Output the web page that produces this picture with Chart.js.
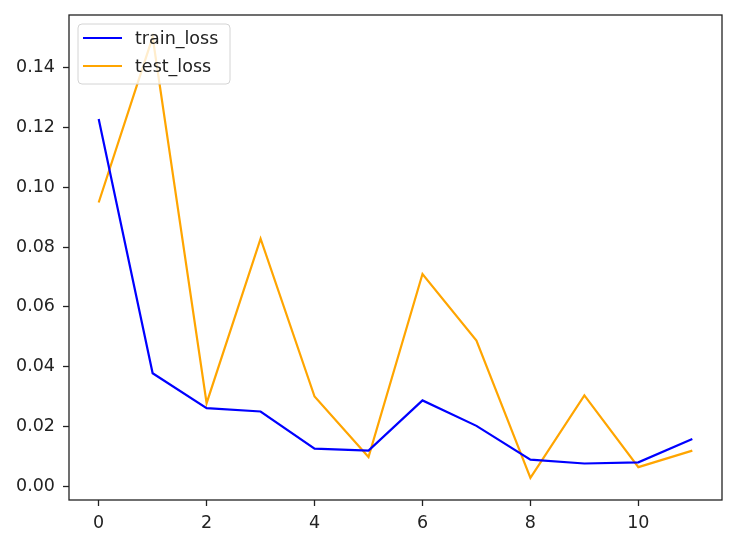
<!DOCTYPE html>
<html>
<head>
<meta charset="utf-8">
<script src="https://cdn.jsdelivr.net/npm/chart.js@4/dist/chart.umd.min.js"></script>
<style>
  html, body { margin: 0; padding: 0; background: #fff; }
  #wrap { width: 752px; height: 546px; }
</style>
</head>
<body>
<div id="wrap"><canvas id="lossChart" width="752" height="546"></canvas></div>
<script>
const epochs = [0, 1, 2, 3, 4, 5, 6, 7, 8, 9, 10, 11];
const trainLoss = [0.1228, 0.0378, 0.0261, 0.0250, 0.0126, 0.0119, 0.0287, 0.0202, 0.0089, 0.0076, 0.0080, 0.0158];
const testLoss = [0.0949, 0.1502, 0.0278, 0.0828, 0.0300, 0.0098, 0.0710, 0.0487, 0.0028, 0.0304, 0.0064, 0.0119];
const xTicks = [0, 2, 4, 6, 8, 10];
const yTicks = [0.00, 0.02, 0.04, 0.06, 0.08, 0.10, 0.12, 0.14];

const FONT = "'DejaVu Sans', sans-serif";
const toPoints = vals => epochs.map((e, i) => ({ x: e, y: vals[i] }));

// axes frame on all four sides, like matplotlib
const framePlugin = {
  id: "frame",
  afterDatasetsDraw(chart) {
    const { ctx, chartArea: a } = chart;
    ctx.save();
    ctx.strokeStyle = "#222";
    ctx.lineWidth = 1.3;
    ctx.strokeRect(a.left, a.top, a.right - a.left, a.bottom - a.top);
    ctx.restore();
  }
};

// legend in the upper left corner, inside the axes
const insideLegend = {
  id: "insideLegend",
  afterDraw(chart) {
    const { ctx, chartArea: a } = chart;
    const x = a.left + 9, y = a.top + 9, w = 152, h = 60, r = 4;
    ctx.save();
    ctx.fillStyle = "rgba(255,255,255,0.8)";
    ctx.strokeStyle = "#d4d4d4";
    ctx.lineWidth = 1;
    ctx.beginPath();
    ctx.roundRect(x, y, w, h, r);
    ctx.fill();
    ctx.stroke();
    ctx.font = "17.5px " + FONT;
    ctx.textBaseline = "middle";
    chart.data.datasets.forEach((ds, i) => {
      const cy = y + 14 + i * 28;
      ctx.strokeStyle = ds.borderColor;
      ctx.lineWidth = 2.2;
      ctx.beginPath();
      ctx.moveTo(x + 5, cy);
      ctx.lineTo(x + 44, cy);
      ctx.stroke();
      ctx.fillStyle = "#222";
      ctx.fillText(ds.label, x + 57, cy + 1);
    });
    ctx.restore();
  }
};

new Chart(document.getElementById("lossChart"), {
  type: "line",
  data: {
    datasets: [
      { label: "train_loss", data: toPoints(trainLoss), borderColor: "#0000ff", backgroundColor: "#0000ff", borderWidth: 2.2, pointRadius: 0, tension: 0 },
      { label: "test_loss", data: toPoints(testLoss), borderColor: "#ffa500", backgroundColor: "#ffa500", borderWidth: 2.2, pointRadius: 0, tension: 0 }
    ]
  },
  options: {
    responsive: false,
    animation: false,
    layout: { padding: { left: 0, right: 30, top: 15, bottom: 0 } },
    plugins: { legend: { display: false }, tooltip: { enabled: false } },
    scales: {
      x: {
        type: "linear",
        min: -0.55,
        max: 11.55,
        afterBuildTicks: axis => { axis.ticks = xTicks.map(v => ({ value: v })); },
        afterFit: axis => { axis.height = 46; axis.paddingLeft = 0; axis.paddingRight = 0; },
        grid: { drawOnChartArea: false, drawTicks: true, tickLength: 6, tickWidth: 1.3, tickColor: "#222" },
        border: { display: false },
        ticks: { color: "#222", font: { family: FONT, size: 17.5 }, padding: 7, maxRotation: 0, callback: v => String(v) }
      },
      y: {
        min: -0.0046,
        max: 0.1576,
        afterBuildTicks: axis => { axis.ticks = yTicks.map(v => ({ value: v })); },
        afterFit: axis => { axis.width = 69; axis.paddingTop = 0; axis.paddingBottom = 0; },
        grid: { drawOnChartArea: false, drawTicks: true, tickLength: 6, tickWidth: 1.3, tickColor: "#222" },
        border: { display: false },
        ticks: { color: "#222", font: { family: FONT, size: 17.5 }, padding: 8, callback: v => v.toFixed(2) }
      }
    }
  },
  plugins: [framePlugin, insideLegend]
});
</script>
</body>
</html>
